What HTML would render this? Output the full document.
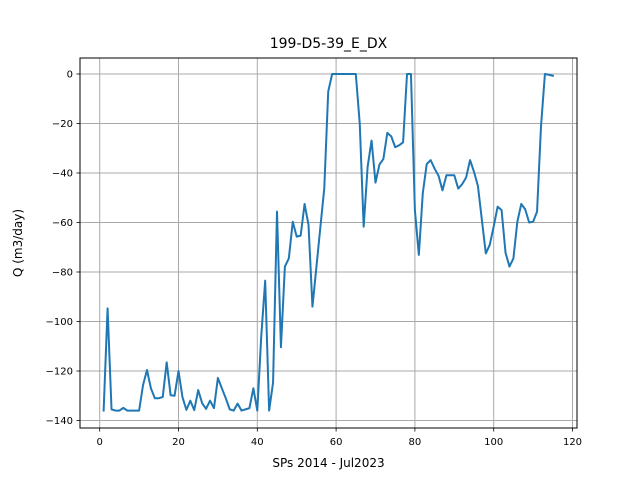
<!DOCTYPE html>
<html><head><meta charset="utf-8"><style>
html,body{margin:0;padding:0;background:#fff;}
svg{display:block;font-family:"DejaVu Sans","Liberation Sans",sans-serif;}
</style></head><body>
<svg id="chart" width="640" height="480">
<rect width="640" height="480" fill="#fff"/>
<text x="328.5" y="48" font-size="14" text-anchor="middle">199-D5-39_E_DX</text>
<g id="grid"></g>
<g id="ticks"></g>
<polyline id="line" fill="none" stroke="#1f77b4" stroke-width="2" stroke-linejoin="round" stroke-linecap="square"/>
<rect x="80" y="58" width="497" height="370" fill="none" stroke="#000" stroke-width="1"/>
<text x="328.5" y="467" font-size="12" text-anchor="middle">SPs 2014 - Jul2023</text>
<text transform="translate(22,243) rotate(-90)" font-size="12" text-anchor="middle">Q (m3/day)</text>
</svg>
<script>
const xTicks = [0,20,40,60,80,100,120];
const yTicks = [0,-20,-40,-60,-80,-100,-120,-140];
const values = [-136,-94.7,-135.5,-136,-136,-134.9,-136,-136,-136,-136,
-125.7,-119.6,-127,-131,-131,-130.5,-116.5,-129.8,-130,-120,
-130.5,-135.7,-132,-135.8,-127.7,-133,-135.3,-132,-135,-122.8,
-127,-131,-135.5,-136,-133.2,-136,-135.5,-135,-127,-136,
-106,-83.5,-136,-124.7,-55.6,-110.4,-77.8,-74.5,-59.7,-65.7,
-65.3,-52.5,-61,-94,-78,-62,-46.2,-7.1,0,0,
0,0,0,0,0,-20,-61.7,-37.5,-26.9,-43.9,
-36.6,-34.3,-23.8,-25.2,-29.6,-28.8,-27.6,0,0,-55,
-73.1,-48.2,-36.4,-34.8,-38.2,-41.1,-47,-40.9,-40.9,-40.9,
-46.3,-44.5,-41.8,-34.8,-39.5,-45.3,-59,-72.5,-69,-61.6,
-53.6,-55,-72.2,-77.8,-74.5,-59.7,-52.5,-54.7,-60,-59.7,
-55.6,-21.3,0,-0.3,-0.7];
const xs = values.map((v,i)=>i+1);
const X = v => 99.7 + v*3.94;
const Y = v => 74 - v*2.475;
const NS="http://www.w3.org/2000/svg";
const grid=document.getElementById('grid'), ticks=document.getElementById('ticks');
function mk(tag,attrs,parent){const e=document.createElementNS(NS,tag);for(const k in attrs)e.setAttribute(k,attrs[k]);parent.appendChild(e);return e;}
xTicks.forEach(t=>{
  const l=mk('line',{x1:X(t),x2:X(t),y1:58,y2:428,stroke:'#a8a8a8','stroke-width':1},grid);
  
  
  const tk=mk('line',{x1:X(t),x2:X(t),y1:428,y2:431.5,stroke:'#000','stroke-width':0.8},ticks);
  
  
  const tx=mk('text',{x:X(t),y:445,'font-size':10,'text-anchor':'middle'},ticks);
  tx.textContent=t;
  
  
});
yTicks.forEach(t=>{
  const l=mk('line',{x1:80,x2:577,y1:Y(t),y2:Y(t),stroke:'#a8a8a8','stroke-width':1},grid);
  
  
  const tk=mk('line',{x1:76.5,x2:80,y1:Y(t),y2:Y(t),stroke:'#000','stroke-width':0.8},ticks);
  
  
  const tx=mk('text',{x:73,y:Y(t)+3.5,'font-size':10,'text-anchor':'end'},ticks);
  tx.textContent=t===0?'0':'\u2212'+Math.abs(t);
  
  
});
document.getElementById('line').setAttribute('points',values.map((v,i)=>X(xs[i]).toFixed(2)+','+Y(v).toFixed(2)).join(' '));
</script>
</body></html>
